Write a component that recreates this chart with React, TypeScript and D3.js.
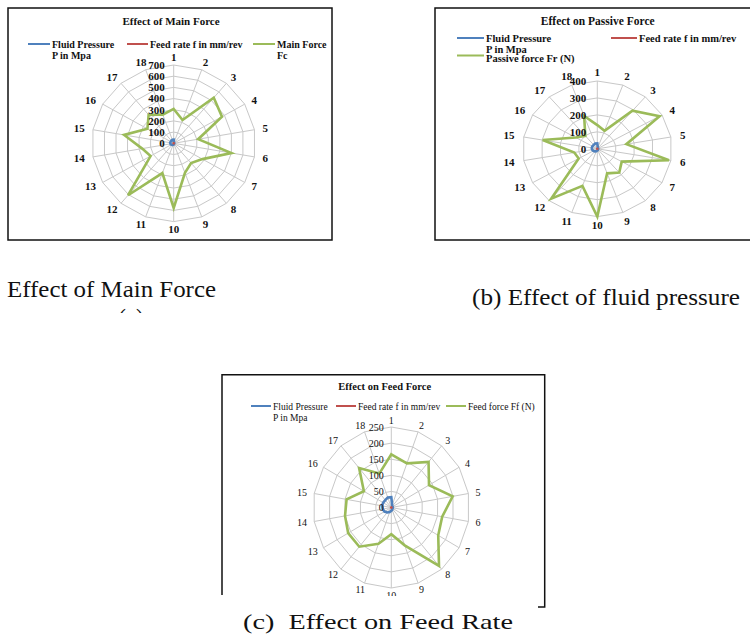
import React from "react";
import * as d3 from "d3";

// ---------- data ----------
const categories = ["1","2","3","4","5","6","7","8","9","10","11","12","13","14","15","16","17","18"];
const fluidPressure = [32, 8, 5, 5, 5, 5, 5, 5, 8, 10, 15, 20, 25, 28, 30, 30, 30, 33];
const feedRate = [0.2, 0.2, 0.2, 0.2, 0.2, 0.2, 0.2, 0.2, 0.2, 0.2, 0.2, 0.2, 0.2, 0.2, 0.2, 0.2, 0.2, 0.2];
const mainForce = [307, 221, 532, 476, 212, 500, 283, 231, 281, 578, 283, 606, 228, 273, 430, 259, 333, 273];
const passiveForce = [140, 113, 293, 385, 158, 390, 151, 183, 154, 400, 233, 384, 115, 125, 297, 133, 100, 206];
const feedForce = [165, 146, 185, 139, 199, 165, 173, 237, 125, 83, 120, 159, 159, 150, 145, 101, 160, 112];
const ticksMain = [0, 100, 200, 300, 400, 500, 600, 700];
const ticksPassive = [0, 100, 200, 300, 400];
const ticksFeed = [0, 50, 100, 150, 200, 250];

const BLUE = "#4F81BD";
const RED = "#C0504D";
const GREEN = "#9BBB59";
const GRID = "#c8c8c8";
const FONT = "Liberation Serif, Times New Roman, Times, serif";

type LegendItem = { x1: number; x2: number; y: number; tx: number; ty: number; lines: string[]; color: string };
type Cfg = {
  id: string;
  title: string; titleX: number; titleY: number; titleSize: number;
  cx: number; cy: number; rx: number; ry: number;
  ticks: number[]; bold: boolean; fontSize: number; labelOff: number; tickDx: number;
  legend: LegendItem[]; legendSize: number;
  series: { values: number[]; color: string }[];
  clipY?: number;
};

function Radar({ cfg }: { cfg: Cfg }) {
  const n = categories.length;
  const max = d3.max(cfg.ticks) as number;
  const ang = d3.scaleLinear().domain([0, n]).range([0, 2 * Math.PI]);
  const rad = d3.scaleLinear().domain([0, max]).range([0, 1]);
  const pt = (i: number, v: number): [number, number] => [
    cfg.cx + cfg.rx * rad(v) * Math.sin(ang(i)),
    cfg.cy - cfg.ry * rad(v) * Math.cos(ang(i)),
  ];
  const closed = d3.line<[number, number]>().curve(d3.curveLinearClosed);
  const weight = cfg.bold ? "bold" : "normal";
  const content = (
    <g>
      {cfg.ticks.filter((t) => t > 0).map((t) => (
        <path key={"r" + t} d={closed(categories.map((_, i) => pt(i, t))) || ""} fill="none" stroke={GRID} strokeWidth={1} />
      ))}
      {categories.map((_, i) => {
        const [x, y] = pt(i, max);
        return <line key={"s" + i} x1={cfg.cx} y1={cfg.cy} x2={x} y2={y} stroke={GRID} strokeWidth={1} />;
      })}
      {cfg.series.map((s, k) => (
        <path key={"p" + k} d={closed(s.values.map((v, i) => pt(i, v))) || ""} fill="none" stroke={s.color} strokeWidth={2.6} strokeLinejoin="miter" />
      ))}
      {cfg.ticks.map((t) => {
        const [, y] = pt(0, t);
        return (
          <text key={"t" + t} x={cfg.cx - cfg.tickDx} y={y} dy="0.35em" textAnchor="end" fontSize={cfg.fontSize} fontWeight={weight} fontFamily={FONT} fill="#111">
            {t}
          </text>
        );
      })}
      {categories.map((c, i) => {
        const a = ang(i);
        const hw = c.length * cfg.fontSize * 0.27;
        const x = cfg.cx + (cfg.rx + cfg.labelOff) * Math.sin(a) + Math.sin(a) * hw;
        const y = cfg.cy - (cfg.ry + cfg.labelOff) * Math.cos(a);
        return (
          <text key={"c" + i} x={x} y={y} dy="0.35em" textAnchor="middle" fontSize={cfg.fontSize} fontWeight={weight} fontFamily={FONT} fill="#111">
            {c}
          </text>
        );
      })}
    </g>
  );
  return (
    <g>
      <text x={cfg.titleX} y={cfg.titleY} textAnchor="middle" fontSize={cfg.titleSize} fontWeight="bold" fontFamily={FONT} fill="#111">
        {cfg.title}
      </text>
      {cfg.legend.map((l, k) => (
        <g key={"l" + k}>
          <line x1={l.x1} x2={l.x2} y1={l.y} y2={l.y} stroke={l.color} strokeWidth={2} />
          {l.lines.map((s, j) => (
            <text key={j} x={l.tx} y={l.ty + j * 11} fontSize={cfg.legendSize} fontWeight={weight} fontFamily={FONT} fill="#111">
              {s}
            </text>
          ))}
        </g>
      ))}
      {cfg.clipY !== undefined ? (
        <>
          <clipPath id={"clip" + cfg.id}>
            <rect x={0} y={0} width={750} height={cfg.clipY} />
          </clipPath>
          <g clipPath={`url(#clip${cfg.id})`}>{content}</g>
        </>
      ) : (
        content
      )}
    </g>
  );
}

const chartA: Cfg = {
  id: "a",
  title: "Effect of Main Force", titleX: 171, titleY: 25, titleSize: 11,
  cx: 173.7, cy: 143.3, rx: 82, ry: 78.3,
  ticks: ticksMain, bold: true, fontSize: 11, labelOff: 8, tickDx: 9,
  legendSize: 10,
  legend: [
    { x1: 28, x2: 50, y: 44, tx: 52, ty: 47.5, lines: ["Fluid Pressure", "P in Mpa"], color: BLUE },
    { x1: 127, x2: 148, y: 44, tx: 150, ty: 47.5, lines: ["Feed rate f in mm/rev"], color: RED },
    { x1: 253, x2: 275, y: 44, tx: 277, ty: 47.5, lines: ["Main Force", "Fc"], color: GREEN },
  ],
  series: [
    { values: mainForce, color: GREEN },
    { values: fluidPressure, color: BLUE },
    { values: feedRate, color: RED },
  ],
};

const chartB: Cfg = {
  id: "b",
  title: "Effect on Passive Force", titleX: 597.7, titleY: 24.5, titleSize: 11.5,
  cx: 597.3, cy: 148.8, rx: 74.7, ry: 67.8,
  ticks: ticksPassive, bold: true, fontSize: 11, labelOff: 9, tickDx: 11,
  legendSize: 10.5,
  legend: [
    { x1: 457, x2: 484, y: 38, tx: 486, ty: 41.5, lines: ["Fluid Pressure", "P in Mpa"], color: BLUE },
    { x1: 611, x2: 637, y: 38, tx: 639, ty: 41.5, lines: ["Feed rate f in mm/rev"], color: RED },
    { x1: 457, x2: 484, y: 55.5, tx: 486, ty: 61.5, lines: ["Passive force Fr  (N)"], color: GREEN },
  ],
  series: [
    { values: passiveForce, color: GREEN },
    { values: fluidPressure, color: BLUE },
    { values: feedRate, color: RED },
  ],
};

const chartC: Cfg = {
  id: "c",
  title: "Effect on Feed Force", titleX: 384.7, titleY: 390, titleSize: 10.5,
  cx: 391.3, cy: 507.5, rx: 78.3, ry: 80.5,
  ticks: ticksFeed, bold: false, fontSize: 10, labelOff: 7, tickDx: 7.5,
  legendSize: 9.5,
  legend: [
    { x1: 251, x2: 271, y: 406, tx: 273, ty: 409.5, lines: ["Fluid Pressure", "P in Mpa"], color: BLUE },
    { x1: 336, x2: 356, y: 406, tx: 358, ty: 409.5, lines: ["Feed rate f in mm/rev"], color: RED },
    { x1: 446, x2: 466, y: 406, tx: 468, ty: 409.5, lines: ["Feed force Ff (N)"], color: GREEN },
  ],
  series: [
    { values: feedForce, color: GREEN },
    { values: fluidPressure, color: BLUE },
    { values: feedRate, color: RED },
  ],
  clipY: 596,
};

export default function App() {
  return (
    <svg width={750} height={636} style={{ position: "absolute", left: 0, top: 0, background: "#fff" }}>
      <rect x={0} y={0} width={750} height={636} fill="#fff" />
      {/* chart frames */}
      <rect x={8} y={8} width={324} height={232} fill="none" stroke="#111" strokeWidth={1.5} />
      <rect x={435} y={8} width={330} height={232} fill="none" stroke="#111" strokeWidth={1.5} />
      <path d="M222,595 L222,374.7 L544.7,374.7 L544.7,607 L538,607" fill="none" stroke="#111" strokeWidth={1.5} />
      <Radar cfg={chartA} />
      <Radar cfg={chartB} />
      <Radar cfg={chartC} />
      {/* captions */}
      <text x={7} y={297} fontSize={23} fontFamily={FONT} fill="#111" textLength={209} lengthAdjust="spacingAndGlyphs">
        Effect of Main Force
      </text>
      <clipPath id="clipCapA">
        <rect x={0} y={300} width={300} height={13} />
      </clipPath>
      <text x={131} y={325} textAnchor="middle" fontSize={23} fontFamily={FONT} fill="#111" clipPath="url(#clipCapA)">
        (a)
      </text>
      <text x={472} y={305} fontSize={23} fontFamily={FONT} fill="#111" textLength={268} lengthAdjust="spacingAndGlyphs">
        (b) Effect of fluid pressure
      </text>
      <text x={243} y={629} fontSize={22} fontFamily={FONT} fill="#111" textLength={270} lengthAdjust="spacingAndGlyphs" style={{ whiteSpace: "pre" }}>
        (c)  Effect on Feed Rate
      </text>
    </svg>
  );
}
